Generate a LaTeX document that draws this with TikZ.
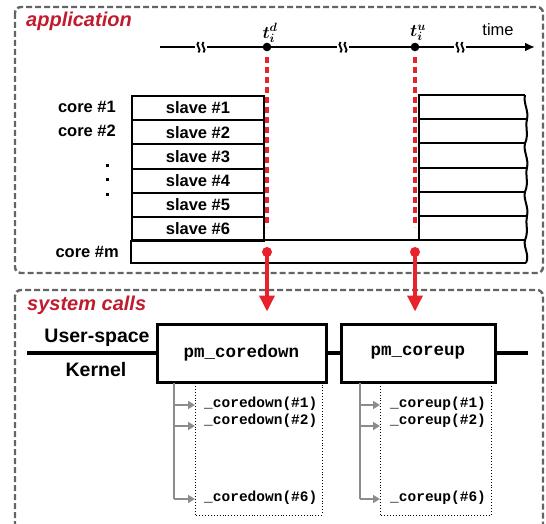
\documentclass[tikz,border=0pt]{standalone}
\usepackage{fontspec}
\setmainfont{Liberation Sans}
\setmonofont{Liberation Mono}
\usepackage{bm}
\usetikzlibrary{arrows.meta}
\definecolor{myred}{RGB}{232,34,42}
\definecolor{titlered}{RGB}{192,28,48}
\definecolor{boxgray}{RGB}{100,100,100}
\definecolor{arrgray}{RGB}{140,140,140}
\tikzset{
  groupbox/.style={draw=boxgray, line width=2.4pt, dash pattern=on 6pt off 3pt, rounded corners=6pt},
  grouptitle/.style={font=\fontsize{20}{22}\selectfont\bfseries\itshape, text=titlered, anchor=west, inner sep=0},
  slavebox/.style={draw, line width=2pt, minimum width=132pt, minimum height=24.2pt, inner sep=0, anchor=north west, font=\fontsize{16.5}{18}\selectfont\bfseries},
  corelabel/.style={font=\fontsize{16.5}{18}\selectfont\bfseries, anchor=east, inner sep=0},
  pmbox/.style={draw, line width=3pt, minimum height=58pt, inner sep=0, font=\ttfamily\bfseries\fontsize{17.5}{19}\selectfont, fill=white},
  calltext/.style={font=\ttfamily\bfseries\fontsize{14.5}{16}\selectfont, anchor=west, inner sep=0},
  dottedbox/.style={draw, line width=0.9pt, dotted},
  reddash/.style={draw=myred, line width=3.5pt, dash pattern=on 6pt off 4pt},
  redarrow/.style={draw=myred, line width=3.5pt, -{Triangle[length=16pt,width=15pt]}, shorten >=11pt},
  grayarrow/.style={draw=arrgray, line width=1.8pt, -{Triangle[length=7pt,width=8pt]}},
  wavy/.style={line width=2pt},
  brk/.style={line width=1.8pt},
}
\begin{document}
\begin{tikzpicture}[x=1pt,y=-1pt]
\useasboundingbox (0,0) rectangle (546,524);
% group boxes
\draw[groupbox] (15,7) rectangle (543,273);
\draw[groupbox] (15,290) rectangle (543,560);
\node[grouptitle] (apptitle) at (26,21) {application};
\node[grouptitle] (systitle) at (27,305) {system calls};

% time axis
\coordinate (tstart) at (160,47);
\coordinate (tend) at (535,47);
\draw[line width=2.4pt, -{Latex[length=10pt,width=9pt]}] (tstart) -- (tend);
\node[font=\fontsize{16.5}{18}\selectfont, inner sep=0] (timelbl) at (498,30) {time};
\foreach \bx in {201,343,460}{
  \fill[white] (\bx-6,40) rectangle (\bx+6,54);
  \draw[brk] (\bx-2.5,42) .. controls (\bx-6.5,45.5) and (\bx+1.5,49) .. (\bx-2.5,52.5);
  \draw[brk] (\bx+2.5,42) .. controls (\bx-1.5,45.5) and (\bx+6.5,49) .. (\bx+2.5,52.5);
}
\fill (267,47) circle (4.3pt) coordinate (td);
\fill (415,47) circle (4.3pt) coordinate (tu);
\node[inner sep=0, font=\fontsize{17}{19}\selectfont] (tdl) at (270,33) {$\bm{t_i^d}$};
\node[inner sep=0, font=\fontsize{17}{19}\selectfont] (tul) at (418,33) {$\bm{t_i^u}$};

% red dashed lines
\coordinate (dd1) at (267,57);
\coordinate (dd2) at (267,227);
\coordinate (du1) at (415,57);
\coordinate (du2) at (415,227);
\draw[reddash] (dd1) -- (dd2);
\draw[reddash] (du1) -- (du2);

% slaves
\foreach \i in {1,...,6}{
  \node[slavebox] (s\i) at (131,{95+(\i-1)*24.2}) {slave \#\i};
}
% core labels
\node[corelabel] (c1) at (116,107) {core \#1};
\node[corelabel] (c2) at (116,131) {core \#2};
\node[corelabel] (cm) at (119,252) {core \#m};
\foreach \yy in {164,178,193}{\fill (106,\yy) rectangle +(3,3);}

% right block (slave continuation)
\foreach \i in {0,...,6}{
  \draw[wavy] (419,{95+\i*24.2}) -- ({525+mod(\i,2)*2},{95+\i*24.2});
}
\draw[wavy] (419,94) -- (419,240);
% core m row
\draw[wavy] (131,240) -- (526,240);
\draw[wavy] (131,240) -- (131,263) -- (526,263);
% wavy right edge
\draw[wavy] (525,95)
  .. controls (523,103) and (529,111) .. (527,119.2)
  .. controls (525,127) and (529,135) .. (525,143.4)
  .. controls (523,151) and (529,159) .. (527,167.6)
  .. controls (525,175) and (529,183) .. (525,191.8)
  .. controls (523,199) and (529,207) .. (527,216)
  .. controls (525,223) and (529,231) .. (525,240.2)
  .. controls (523,247) and (530,255) .. (526,263);

% red dots
\fill[myred] (267,252) circle (5pt) coordinate (rd);
\fill[myred] (415,252) circle (5pt) coordinate (ru);

% pm boxes
\node[pmbox, minimum width=169pt] (pmd) at (241.5,353) {pm\_coredown};
\node[pmbox, minimum width=154pt] (pmu) at (418,353) {pm\_coreup};
\draw[redarrow] (rd) -- (rd |- pmd.north);
\draw[redarrow] (ru) -- (ru |- pmu.north);

% user/kernel line
\coordinate (ulstart) at (27,353);
\coordinate (ulend) at (528,353);
\draw[line width=3.5pt] (ulstart) -- (pmd.west);
\draw[line width=3.5pt] (pmd.east) -- (pmu.west);
\draw[line width=3.5pt] (pmu.east) -- (ulend);
\node[font=\fontsize{19.5}{21}\selectfont\bfseries, inner sep=0] (us) at (97,338) {User-space};
\node[font=\fontsize{19.5}{21}\selectfont\bfseries, inner sep=0] (kn) at (96,370) {Kernel};

% dotted boxes
\draw[dottedbox] (195,383) rectangle (322,515);
\draw[dottedbox] (380,383) rectangle (491,515);

% coredown calls
\node[calltext] (d1) at (204,404) {\_coredown(\#1)};
\node[calltext] (d2) at (204,421) {\_coredown(\#2)};
\node[calltext] (d6) at (204,498) {\_coredown(\#6)};
\coordinate (dv) at (174,383);
\draw[draw=arrgray, line width=1.8pt] (dv) -- (174,499);
\draw[grayarrow] (174,405) -- (195,405);
\draw[grayarrow] (174,426) -- (195,426);
\draw[grayarrow] (174,499) -- (195,499);

% coreup calls
\node[calltext] (u1) at (390,404) {\_coreup(\#1)};
\node[calltext] (u2) at (390,421) {\_coreup(\#2)};
\node[calltext] (u6) at (390,498) {\_coreup(\#6)};
\coordinate (uv) at (360,383);
\draw[draw=arrgray, line width=1.8pt] (uv) -- (360,499);
\draw[grayarrow] (360,405) -- (380,405);
\draw[grayarrow] (360,426) -- (380,426);
\draw[grayarrow] (360,499) -- (380,499);
\end{tikzpicture}
\end{document}
